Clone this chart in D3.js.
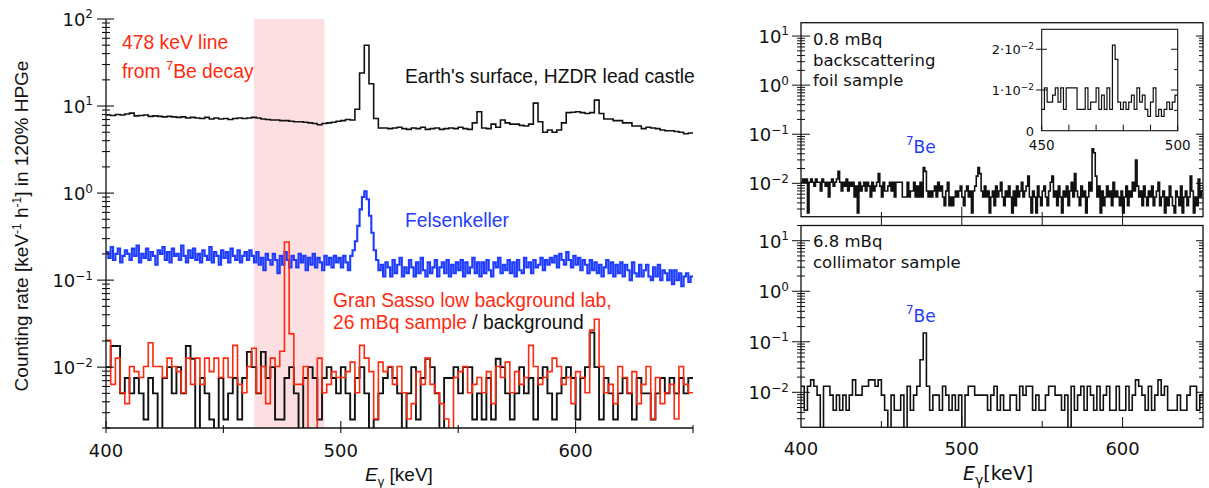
<!DOCTYPE html>
<html>
<head>
<meta charset="utf-8">
<script src="https://cdn.jsdelivr.net/npm/d3@7"></script>
<style>
  body { margin: 0; background: #fff; }
  text { fill: #111; }
</style>
</head>
<body>
<svg id="chart" width="1209" height="488"></svg>
<script>
// ---- data ----
const energyRange = [400, 650];
const band7Be = [463, 493];

// Earth's surface, HZDR lead castle: rate [keV^-1 h^-1], 2 keV bins from 400 keV
const surfaceRate = [
  7.9,7.8,8.0,7.9,8.1,8.3,7.7,7.8,7.9,7.6, 7.7,7.6,7.5,7.6,7.5,7.4,7.5,7.3,7.4,7.3,
  7.2,7.4,7.1,7.3,7.1,7.2,7.0,7.2,7.3,7.2, 7.3,7.4,7.3,7.1,7.0,6.9,6.9,6.8,6.8,6.7,
  6.6,6.6,6.5,6.4,6.3,6.1,6.3,6.4,6.5,6.7, 6.8,7.0,6.9,9.2,24,50,18,7.2,5.6,5.6,
  5.5,5.6,5.7,5.5,5.4,5.6,5.5,5.7,5.4,5.5, 5.6,5.4,5.5,5.6,5.5,5.7,5.5,5.4,6.4,8.6,
  5.6,5.5,6.2,5.7,6.9,6.4,6.2,6.2,6.0,5.9, 6.2,10.8,6.6,5.0,5.3,5.0,5.3,6.4,8.4,8.5,
  8.6,8.4,8.2,8.4,11.7,8.2,7.1,7.1,6.8,6.8, 6.4,6.4,5.9,5.9,5.5,5.7,5.6,5.5,5.3,5.2,
  5.2,5.1,5.0,4.8,4.9
];

// Felsenkeller: rate, 1 keV bins from 400 keV
const felsenkellerRate = [
  .21,.18,.24,.17,.20,.23,.16,.19,.22,.20, .17,.23,.19,.25,.16,.20,.18,.23,.17,.21,
  .19,.15,.22,.20,.24,.17,.21,.16,.23,.19, .20,.17,.25,.19,.16,.22,.18,.23,.17,.20,
  .16,.22,.19,.17,.24,.16,.21,.19,.15,.22, .18,.21,.16,.23,.19,.17,.22,.16,.19,.21,
  .17,.22,.19,.16,.21,.15,.18,.13,.20,.17, .15,.20,.17,.12,.19,.15,.21,.17,.14,.19,
  .17,.14,.20,.16,.19,.13,.18,.15,.20,.14, .18,.16,.13,.19,.15,.18,.14,.19,.16,.18,
  .14,.19,.16,.13,.19,.22,.28,.42,.65,.90, 1.05,.85,.55,.35,.22,.17,.13,.15,.11,.16,
  .14,.11,.17,.12,.15,.18,.11,.14,.12,.17, .14,.11,.16,.12,.18,.13,.11,.16,.12,.14,
  .17,.11,.14,.16,.12,.17,.11,.15,.12,.16, .13,.17,.11,.16,.12,.14,.18,.12,.16,.11,
  .16,.12,.17,.13,.11,.16,.14,.18,.12,.15, .13,.17,.12,.16,.11,.17,.13,.12,.18,.14,
  .16,.12,.17,.14,.15,.18,.13,.17,.15,.18, .16,.19,.14,.20,.17,.15,.21,.17,.14,.19,
  .15,.18,.13,.17,.15,.12,.17,.13,.16,.12, .15,.11,.14,.17,.12,.16,.11,.15,.12,.16,
  .11,.15,.13,.10,.16,.12,.11,.15,.11,.13, .15,.11,.10,.14,.11,.15,.10,.13,.12,.10,
  .13,.09,.13,.10,.12,.085,.11,.12,.095,.11
];

// Gran Sasso, 26 mBq sample: counts per 2 keV bin, and rate per count
const gsSampleCounts = [
  16,5,10,4,3,8,7,6,8,15, 8,8,6,10,8,7,4,10,5,10, 5,10,7,10,6,10,6,14,5,4,
  8,13,4,8,3,10,8,12,216,19, 5,5,8,0,0,10,4,5,7,6, 6,7,9,4,14,10,7,2,9,7,
  8,5,8,4,2,3,7,5,10,5, 4,3,2,0,6,7,8,4,5,6, 4,7,3,8,6,9,4,7,5,6,
  14,8,5,6,7,10,8,5,6,3, 7,6,4,21,28,8,4,5,3,8, 6,4,7,3,5,8,2,6,3,4,
  5,2,8,5,4
];
const gsSampleRatePerCount = 0.00127;

// Gran Sasso background: counts per 2 keV bin
const gsBackgroundCounts = [
  4,7,7,2,3,2,3,2,1,3, 2,0,3,4,2,4,2,7,5,0, 3,2,1,0,3,1,2,3,1,3,
  6,4,2,6,3,4,1,1,3,4, 2,0,3,4,3,1,3,4,3,2, 4,2,1,3,4,2,0,1,2,3,
  4,3,2,0,2,4,1,3,5,4, 2,0,3,3,4,2,4,4,1,2, 1,3,1,5,4,2,1,2,4,2,
  3,1,3,4,2,1,2,3,4,3, 1,3,4,10,4,1,3,2,1,2, 3,2,1,3,2,2,1,2,3,2,
  3,2,3,2,3
];
const gsBackgroundRatePerCount = 0.0025;

// 0.8 mBq backscattering foil sample: counts per 1 keV bin from 400 keV
const foilCounts = [
  6,7,6,7,0,6,7,6,5,7, 6,6,4,7,6,5,6,3,6,7, 5,6,7,10,6,4,6,5,7,4, 6,5,6,3,5,0,6,4,5,6,
  4,6,5,3,6,4,5,6,9,5, 3,6,4,4,5,6,4,6,3,6, 6,6,6,3,3,3,6,3,4,4, 6,3,5,3,6,3,12,10,4,3,
  4,3,4,5,3,6,4,5,3,2, 4,6,2,3,2,3,4,3,4,5, 3,2,4,5,3,4,0,4,5,8, 12,9,4,3,5,3,4,0,3,4,
  2,5,3,4,6,3,2,4,3,5, 3,0,4,2,5,3,4,6,3,4, 5,8,3,0,4,3,0,5,3,2, 4,5,3,2,4,6,8,3,4,2,
  5,3,0,4,3,5,2,4,6,3, 9,4,3,2,5,3,4,0,3,6, 4,29,24,8,3,5,0,4,2,3, 5,3,4,2,6,3,4,3,2,4,
  0,3,5,2,4,3,6,4,17,5, 3,4,2,5,3,2,4,3,5,2, 3,4,6,2,3,4,0,3,2,5, 3,2,0,4,3,2,5,0,3,4,
  2,3,8,4,0,3,2,7,3,4
];
const foilRatePerCount = 0.00175;
const insetRange = [450, 500];

// 6.8 mBq collimator sample: counts per 2 keV bin from 400 keV
const collimatorCounts = [
  3,1,3,4,3,2,0,3,3,2, 1,2,1,2,1,2,4,2,2,3, 3,4,4,3,4,2,1,0,2,1,
  1,2,0,3,1,2,3,10,34,3, 1,2,2,1,3,2,1,2,1,2, 0,2,3,3,2,2,2,2,1,2,
  3,1,2,1,1,2,2,1,3,2, 3,3,1,2,1,1,2,3,3,2, 2,1,2,0,3,1,2,3,1,3,
  2,1,3,1,2,3,1,1,3,1, 1,3,1,2,4,3,2,1,3,1, 2,4,2,3,1,1,1,2,1,1,
  2,3,3,1,2
];
const collimatorRatePerCount = 0.0044;

const xMajorTicks = [400, 500, 600];
const xMinorTicks = [450, 550, 650];
const insetYTicks = [0, 0.01, 0.02];
const insetXTicks = [450, 460, 470, 480, 490, 500];

// ---- helpers ----
const RED = "#ff2a0e", BLUE = "#1e3cff";
const svg = d3.select("#chart");
const tickFont = "'DejaVu Sans', sans-serif";
const textFont = "'Liberation Sans', Arial, sans-serif";

function stepPoints(start, width, values) {
  const pts = values.map((v, i) => [start + i * width, v]);
  pts.push([start + values.length * width, values[values.length - 1]]);
  return pts;
}

function drawHist(g, x, y, start, width, values, floor, color, sw) {
  const line = d3.line()
    .x(d => x(d[0]))
    .y(d => y(Math.max(d[1], floor)))
    .curve(d3.curveStepAfter);
  g.append("path")
    .datum(stepPoints(start, width, values))
    .attr("fill", "none")
    .attr("stroke", color)
    .attr("stroke-width", sw)
    .attr("stroke-linejoin", "miter")
    .attr("d", line);
}

function powLabel(g, xPos, yPos, exp, size, supSize, font) {
  const t = g.append("text")
    .attr("x", xPos).attr("y", yPos)
    .attr("text-anchor", "end")
    .attr("font-family", font)
    .attr("font-size", size);
  t.append("tspan").text("10");
  t.append("tspan").attr("dy", -size * 0.42).attr("font-size", supSize)
    .text(exp < 0 ? "\u2212" + (-exp) : String(exp));
}

function clip(id, x0, y0, x1, y1) {
  svg.append("clipPath").attr("id", id)
    .append("rect").attr("x", x0).attr("y", y0).attr("width", x1 - x0).attr("height", y1 - y0);
}

function isMajor(v) { return Math.abs(Math.log10(v) - Math.round(Math.log10(v))) < 1e-9; }

// ---- left panel ----
const xL = d3.scaleLinear().domain(energyRange).range([106, 693]);
const yL = d3.scaleLog().domain([0.002, 100]).range([428, 19]);
clip("clipL", 106, 19, 693, 428);

const gL = svg.append("g");
gL.append("rect")
  .attr("x", xL(band7Be[0])).attr("y", yL(100))
  .attr("width", xL(band7Be[1]) - xL(band7Be[0]))
  .attr("height", yL(0.002) - yL(100))
  .attr("fill", "#fddfe2");

const dataL = gL.append("g").attr("clip-path", "url(#clipL)");
drawHist(dataL, xL, yL, 400, 2, surfaceRate, 0.002, "#111", 1.6);
drawHist(dataL, xL, yL, 400, 1, felsenkellerRate, 0.002, BLUE, 2.1);
drawHist(dataL, xL, yL, 400, 2, gsBackgroundCounts.map(c => c * gsBackgroundRatePerCount), 0.001, "#111", 1.9);
drawHist(dataL, xL, yL, 400, 2, gsSampleCounts.map(c => c * gsSampleRatePerCount), 0.001, RED, 1.6);

// left axes
gL.append("line").attr("x1", 106).attr("x2", 106).attr("y1", 19).attr("y2", 428)
  .attr("stroke", "#111").attr("stroke-width", 1.3);
gL.append("line").attr("x1", 106).attr("x2", 693).attr("y1", 428).attr("y2", 428)
  .attr("stroke", "#111").attr("stroke-width", 1.3);
yL.ticks().forEach(v => {
  const maj = isMajor(v);
  gL.append("line").attr("x1", maj ? 97 : 102).attr("x2", maj ? 114 : 110)
    .attr("y1", yL(v)).attr("y2", yL(v)).attr("stroke", "#111").attr("stroke-width", 1.1);
  if (maj) powLabel(gL, 93, yL(v) + 7, Math.round(Math.log10(v)), 18, 12, tickFont);
});
xMajorTicks.forEach(v => {
  gL.append("line").attr("x1", xL(v)).attr("x2", xL(v)).attr("y1", 421).attr("y2", 433)
    .attr("stroke", "#111").attr("stroke-width", 1.1);
  gL.append("text").attr("x", xL(v)).attr("y", 457).attr("text-anchor", "middle")
    .attr("font-family", tickFont).attr("font-size", 18).text(v);
});
xMinorTicks.forEach(v => {
  gL.append("line").attr("x1", xL(v)).attr("x2", xL(v)).attr("y1", 425).attr("y2", 433)
    .attr("stroke", "#111").attr("stroke-width", 1.1);
});

// left axis titles
const yTitle = gL.append("text")
  .attr("transform", "translate(28,226) rotate(-90)")
  .attr("text-anchor", "middle")
  .attr("font-family", textFont).attr("font-size", 19);
yTitle.append("tspan").text("Counting rate [keV");
yTitle.append("tspan").attr("dy", -7).attr("font-size", 12).text("-1");
yTitle.append("tspan").attr("dy", 7).text(" h");
yTitle.append("tspan").attr("dy", -7).attr("font-size", 12).text("-1");
yTitle.append("tspan").attr("dy", 7).text("] in 120% HPGe");

const xTitleL = gL.append("text").attr("x", 399).attr("y", 481).attr("text-anchor", "middle")
  .attr("font-family", textFont).attr("font-size", 19);
xTitleL.append("tspan").attr("font-style", "italic").text("E");
xTitleL.append("tspan").attr("dy", 5).attr("font-size", 13).text("\u03b3");
xTitleL.append("tspan").attr("dy", -5).text(" [keV]");

// left annotations
const annSize = 19.3;
gL.append("text").attr("x", 122).attr("y", 49).attr("font-family", textFont)
  .attr("font-size", annSize).style("fill", RED).text("478 keV line");
const beText = gL.append("text").attr("x", 122).attr("y", 78).attr("font-family", textFont)
  .attr("font-size", annSize).style("fill", RED);
beText.append("tspan").text("from ");
beText.append("tspan").attr("dy", -8).attr("font-size", 13).text("7");
beText.append("tspan").attr("dy", 8).text("Be decay");
gL.append("text").attr("x", 405).attr("y", 83).attr("font-family", textFont)
  .attr("font-size", annSize).text("Earth's surface, HZDR lead castle");
gL.append("text").attr("x", 405).attr("y", 227).attr("font-family", textFont)
  .attr("font-size", annSize).style("fill", BLUE).text("Felsenkeller");
gL.append("text").attr("x", 333).attr("y", 307).attr("font-family", textFont)
  .attr("font-size", annSize).style("fill", RED).text("Gran Sasso low background lab,");
const gsText = gL.append("text").attr("x", 333).attr("y", 329).attr("font-family", textFont)
  .attr("font-size", annSize);
gsText.append("tspan").style("fill", RED).text("26 mBq sample");
gsText.append("tspan").text(" / background");

// ---- right panels ----
const xR = d3.scaleLinear().domain(energyRange).range([801, 1203]);
const yT = d3.scaleLog().domain([0.00209, 18.7]).range([216.7, 22.7]);
const yB = d3.scaleLog().domain([0.00203, 20]).range([427.3, 225.5]);
clip("clipT", 801, 22.7, 1203, 216.7);
clip("clipB", 801, 225.5, 1203, 427.3);

const gR = svg.append("g");
drawHist(gR.append("g").attr("clip-path", "url(#clipT)"), xR, yT, 400, 1,
  foilCounts.map(c => c * foilRatePerCount), 0.0025, "#111", 1.6);
drawHist(gR.append("g").attr("clip-path", "url(#clipB)"), xR, yB, 400, 2,
  collimatorCounts.map(c => c * collimatorRatePerCount), 0.001, "#111", 1.6);

[[yT, 22.7, 216.7], [yB, 225.5, 427.3]].forEach(([y, top, bot]) => {
  gR.append("rect").attr("x", 801).attr("y", top).attr("width", 402).attr("height", bot - top)
    .attr("fill", "none").attr("stroke", "#111").attr("stroke-width", 1.3);
  y.ticks().forEach(v => {
    const maj = isMajor(v);
    gR.append("line").attr("x1", maj ? 792 : 797).attr("x2", maj ? 810 : 805)
      .attr("y1", y(v)).attr("y2", y(v)).attr("stroke", "#111").attr("stroke-width", 1);
    gR.append("line").attr("x1", maj ? 1196 : 1199).attr("x2", 1203)
      .attr("y1", y(v)).attr("y2", y(v)).attr("stroke", "#111").attr("stroke-width", 1);
    if (maj) powLabel(gR, 789, y(v) + 7, Math.round(Math.log10(v)), 18, 12, tickFont);
  });
});
// ticks between the two panels and along the bottom
[450, 500, 550, 600].forEach(v => {
  const maj = v % 100 === 0;
  gR.append("line").attr("x1", xR(v)).attr("x2", xR(v))
    .attr("y1", maj ? 207 : 212).attr("y2", 225.5).attr("stroke", "#111").attr("stroke-width", 1);
  gR.append("line").attr("x1", xR(v)).attr("x2", xR(v))
    .attr("y1", maj ? 417 : 421).attr("y2", 427.3).attr("stroke", "#111").attr("stroke-width", 1);
});
xMajorTicks.forEach(v => {
  gR.append("text").attr("x", xR(v)).attr("y", 455).attr("text-anchor", "middle")
    .attr("font-family", tickFont).attr("font-size", 18).text(v);
});
const xTitleR = gR.append("text").attr("x", 998).attr("y", 480).attr("text-anchor", "middle")
  .attr("font-family", tickFont).attr("font-size", 19);
xTitleR.append("tspan").attr("font-style", "italic").text("E");
xTitleR.append("tspan").attr("dy", 5).attr("font-size", 14).text("\u03b3");
xTitleR.append("tspan").attr("dy", -5).text("[keV]");

function rightLabel(xPos, yPos, lines) {
  lines.forEach((s, i) => gR.append("text").attr("x", xPos).attr("y", yPos + i * 20.5)
    .attr("font-family", tickFont).attr("font-size", 16.5).text(s));
}
rightLabel(813, 45, ["0.8 mBq", "backscattering", "foil sample"]);
rightLabel(813, 247, ["6.8 mBq", "collimator sample"]);

function beLabel(xPos, yPos, size) {
  const t = gR.append("text").attr("x", xPos).attr("y", yPos).attr("font-family", tickFont)
    .attr("font-size", size).style("fill", BLUE);
  t.append("tspan").attr("dy", -size * 0.45).attr("font-size", size * 0.7).text("7");
  t.append("tspan").attr("dy", size * 0.45).text("Be");
}
beLabel(906, 153, 17);
beLabel(906, 322, 17);
beLabel(1078, 53, 17);

// ---- inset ----
const xI = d3.scaleLinear().domain(insetRange).range([1041.7, 1177.7]);
const yI = d3.scaleLinear().domain([0, 0.0249]).range([130.7, 29.3]);
const gI = svg.append("g");
gI.append("rect").attr("x", 1041.7).attr("y", 29.3).attr("width", 136).attr("height", 101.4)
  .attr("fill", "#fff").attr("stroke", "#111").attr("stroke-width", 1.1);
const i0 = insetRange[0] - energyRange[0], i1 = insetRange[1] - energyRange[0];
drawHist(gI, xI, yI, insetRange[0], 1,
  foilCounts.slice(i0, i1).map(c => c * foilRatePerCount), 0, "#111", 1.2);
[0.005, 0.01, 0.015, 0.02].forEach(v => {
  const maj = insetYTicks.includes(v);
  gI.append("line").attr("x1", maj ? 1036 : 1041.7).attr("x2", maj ? 1047 : 1041.7)
    .attr("y1", yI(v)).attr("y2", yI(v)).attr("stroke", "#111").attr("stroke-width", 1);
  gI.append("line").attr("x1", maj ? 1171 : 1174).attr("x2", 1177.7)
    .attr("y1", yI(v)).attr("y2", yI(v)).attr("stroke", "#111").attr("stroke-width", 1);
});
insetYTicks.forEach(v => {
  const t = gI.append("text").attr("x", 1034).attr("y", yI(v) + 5).attr("text-anchor", "end")
    .attr("font-family", tickFont).attr("font-size", 13);
  if (v === 0) { t.text("0"); return; }
  t.append("tspan").text(Math.round(v * 100) + "\u00b710");
  t.append("tspan").attr("dy", -5).attr("font-size", 9).text("\u22122");
});
insetXTicks.forEach(v => {
  gI.append("line").attr("x1", xI(v)).attr("x2", xI(v)).attr("y1", 124.7).attr("y2", 130.7)
    .attr("stroke", "#111").attr("stroke-width", 1);
});
[450, 500].forEach(v => {
  gI.append("text").attr("x", xI(v)).attr("y", 150).attr("text-anchor", "middle")
    .attr("font-family", tickFont).attr("font-size", 13.5).text(v);
});
</script>
</body>
</html>
